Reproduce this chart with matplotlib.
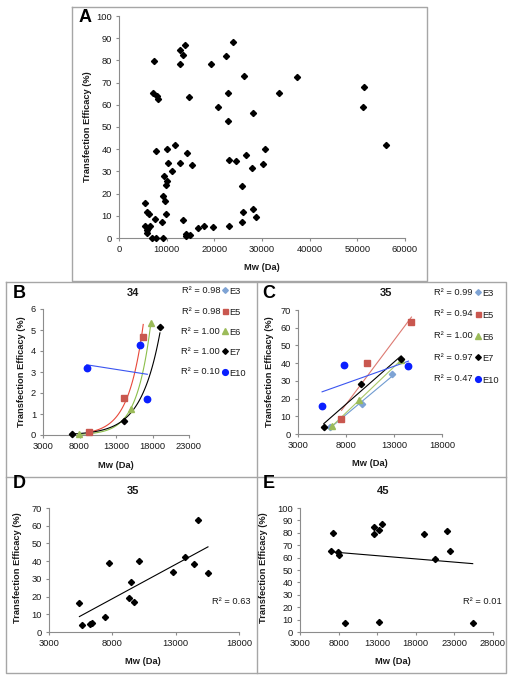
import numpy as np
import matplotlib
matplotlib.use('Agg')
import matplotlib.pyplot as plt
from matplotlib.lines import Line2D

plt.rcParams['font.family'] = ['Liberation Sans', 'DejaVu Sans']

W, H = 513, 682

# ---- panel A: all polymers ----
a_mw = [7350, 7140, 7980, 8190, 7770, 12880, 13790, 13440, 12880, 14700,
        19390, 22400, 24010, 26320, 22890, 20860, 22890, 28210, 33530, 37240,
        51380, 51240, 56000, 10080, 11760, 14350, 15400, 12810, 10220, 11060,
        9450, 10080, 9800, 9240, 9660, 9940, 23170, 24500, 26600, 30660,
        30240, 28000, 25760, 26110, 28210, 28700, 25760, 23100, 19740, 17780,
        16660, 13440, 14000, 14140, 14980, 8960, 7490, 5390, 5880, 6300,
        5390, 6510, 6160, 5880, 5880, 6860, 7840, 9310]
a_te = [79.6, 65.4, 64.0, 62.4, 39.0, 84.9, 87.1, 82.3, 78.6, 63.3,
        78.6, 81.9, 88.3, 73.0, 65.4, 59.1, 52.9, 56.4, 65.4, 72.3,
        68.1, 58.9, 42.1, 40.0, 42.1, 38.5, 33.1, 33.6, 33.7, 30.1,
        28.0, 25.6, 23.7, 19.0, 16.6, 10.6, 35.1, 34.6, 37.5, 40.0,
        33.3, 31.6, 23.4, 11.8, 12.9, 9.6, 7.3, 5.4, 5.1, 5.4,
        4.6, 8.1, 1.6, 0.9, 1.3, 7.0, 8.4, 15.9, 11.7, 10.6,
        5.5, 5.4, 4.5, 3.6, 2.4, 0.0, 0.0, 0.0]

# ---- panel B: 34, by series ----
b_series = ['E3', 'E5', 'E6', 'E7', 'E10']
b_r2 = ['0.98', '0.98', '1.00', '1.00', '0.10']
b_mw = {'E3': [], 'E5': [9320, 14120, 16730], 'E6': [7900, 15000, 17780],
        'E7': [6980, 14120, 19020], 'E10': [8990, 16290, 17290]}
b_te = {'E3': [], 'E5': [0.13, 1.76, 4.67], 'E6': [0.03, 1.25, 5.33],
        'E7': [0.05, 0.68, 5.13], 'E10': [3.18, 4.30, 1.70]}

# ---- panel C: 35, by series ----
c_series = ['E3', 'E5', 'E6', 'E7', 'E10']
c_r2 = ['0.99', '0.94', '1.00', '0.97', '0.47']
c_mw = {'E3': [6310, 9700, 12840], 'E5': [7530, 10150, 14820],
        'E6': [6560, 9350, 13750], 'E7': [5690, 9560, 13740],
        'E10': [5510, 7810, 14510]}
c_te = {'E3': [4.1, 16.8, 33.7], 'E5': [8.3, 40.1, 63.2],
        'E6': [4.5, 19.0, 41.8], 'E7': [3.9, 28.0, 42.3],
        'E10': [15.8, 39.0, 38.4]}

# ---- panel D: 35 pooled ----
d_mw = [5400, 5590, 6250, 6430, 7440, 7750, 9290, 9470, 9680, 10100,
        12770, 13750, 14440, 14800, 15550]
d_te = [16.2, 4.0, 4.5, 5.1, 8.5, 39.1, 19.4, 28.0, 16.9, 40.3,
        33.7, 42.2, 38.6, 63.4, 33.3]

# ---- panel E: 45 pooled ----
e_mw = [7010, 7310, 7870, 8040, 8780, 12650, 12650, 13210, 13560, 13260,
        19030, 20500, 22010, 22480, 25370]
e_te = [65.3, 79.8, 64.2, 62.4, 7.3, 84.9, 78.8, 82.3, 87.4, 8.3,
        78.8, 59.1, 81.7, 65.6, 7.5]

styles = {
    'E3': dict(marker='D', color='#7ea3d4', ms=3.2, line='#7ea3d4'),
    'E5': dict(marker='s', color='#c9574f', ms=4.0, line='#e8483a'),
    'E6': dict(marker='^', color='#9bbb59', ms=4.2, line='#8cbf4a'),
    'E7': dict(marker='D', color='black', ms=3.2, line='black'),
    'E10': dict(marker='o', color='#0a1fff', ms=4.6, line='#3b55f0'),
}
c_line = {'E5': '#dd7a72', 'E3': '#6f9bd0', 'E6': '#a9c96a'}

AX_C = '#8c8c8c'
TXT = '#1a1a1a'
DMS = 3.1   # black diamond size in A, D, E


def ax_px(fig, x0, x1, ybot, ytop):
    return fig.add_axes([x0 / W, 1 - ybot / H, (x1 - x0) / W, (ybot - ytop) / H])


def style(ax, xlim, xticks, ylim, yticks):
    ax.set_xlim(xlim)
    ax.set_ylim(ylim)
    ax.set_xticks(xticks)
    ax.set_yticks(yticks)
    for s in ['top', 'right']:
        ax.spines[s].set_visible(False)
    for s in ['left', 'bottom']:
        ax.spines[s].set_color(AX_C)
        ax.spines[s].set_linewidth(0.8)
    ax.tick_params(direction='out', length=2.5, width=0.8, color=AX_C,
                   labelsize=6.7, pad=2.5, labelcolor=TXT)
    ax.patch.set_alpha(0)


def ftext(fig, x, y, s, **kw):
    fig.text(x / W, 1 - y / H, s, **kw)


def fline(fig, xs, ys):
    fig.add_artist(Line2D([x / W for x in xs], [1 - y / H for y in ys],
                          color='#a6a6a6', lw=1.0, transform=fig.transFigure))


def lin_trend(ax, x, y, color):
    x = np.array(x, float)
    k, b = np.polyfit(x, y, 1)
    xs = np.array([x.min(), x.max()])
    ax.plot(xs, k * xs + b, color=color, lw=0.8, zorder=2)


def exp_trend(ax, x, y, color):
    x = np.array(x, float)
    k, b = np.polyfit(x, np.log(y), 1)
    xs = np.linspace(x.min(), x.max(), 100)
    ax.plot(xs, np.exp(k * xs + b), color=color, lw=0.8, zorder=2)


def legend_rows(fig, x_txt, ys, names, r2s):
    for y, n, r in zip(ys, names, r2s):
        st = styles[n]
        ftext(fig, x_txt, y, 'R² = ' + r, ha='right', va='center', fontsize=6.7, color=TXT)
        fig.add_artist(Line2D([(x_txt + 5) / W], [1 - y / H], marker=st['marker'],
                              color=st['color'], ms=st['ms'] * 0.9, ls='none',
                              transform=fig.transFigure))
        ftext(fig, x_txt + 9, y + 1.5, n, ha='left', va='center', fontsize=6.7, color=TXT)


fig = plt.figure(figsize=(W / 100, H / 100), dpi=100)

# panel borders
fline(fig, [72, 427, 427, 72, 72], [7, 7, 281, 281, 7])
fline(fig, [6, 506, 506, 6, 6], [282, 282, 673, 673, 282])
fline(fig, [257, 257], [282, 673])
fline(fig, [6, 506], [477, 477])

# ---- A ----
ax = ax_px(fig, 119, 405, 238, 16)
style(ax, (0, 60000), range(0, 60001, 10000), (0, 100), range(0, 101, 10))
ax.plot(a_mw, a_te, 'D', color='black', ms=DMS, clip_on=False, zorder=3)
ftext(fig, 79, 17, 'A', fontsize=13, fontweight='bold', va='center', ha='left')
ftext(fig, 262, 268, 'Mw (Da)', fontsize=6.7, fontweight='bold', ha='center', va='center', color=TXT)
ftext(fig, 87, 127, 'Transfection Efficacy (%)', fontsize=6.7, fontweight='bold',
      ha='center', va='center', rotation=90, color=TXT)

# ---- B ----
ax = ax_px(fig, 43, 189, 435, 309)
style(ax, (3000, 23000), range(3000, 23001, 5000), (0, 6), range(0, 7))
for n in b_series:
    if not b_mw[n]:
        continue
    st = styles[n]
    if n == 'E10':
        lin_trend(ax, b_mw[n], b_te[n], st['line'])
    else:
        exp_trend(ax, b_mw[n], b_te[n], st['line'])
for n in b_series:
    if not b_mw[n]:
        continue
    st = styles[n]
    ax.plot(b_mw[n], b_te[n], st['marker'], color=st['color'], ms=st['ms'], clip_on=False, zorder=3)
ftext(fig, 13, 293, 'B', fontsize=13, fontweight='bold', va='center', ha='left')
ftext(fig, 133, 293, '34', fontsize=8, fontweight='bold', ha='center', va='center', color=TXT)
ftext(fig, 116, 465, 'Mw (Da)', fontsize=6.7, fontweight='bold', ha='center', va='center', color=TXT)
ftext(fig, 22, 372, 'Transfection Efficacy (%)', fontsize=6.7, fontweight='bold',
      ha='center', va='center', rotation=90, color=TXT)
legend_rows(fig, 220, [290, 311, 331, 351, 372], b_series, b_r2)

# ---- C ----
ax = ax_px(fig, 298, 442, 434, 310)
style(ax, (3000, 18000), range(3000, 18001, 5000), (0, 70), range(0, 71, 10))
for n in c_series:
    lin_trend(ax, c_mw[n], c_te[n], c_line.get(n, styles[n]['line']))
for n in c_series:
    st = styles[n]
    ax.plot(c_mw[n], c_te[n], st['marker'], color=st['color'], ms=st['ms'], clip_on=False, zorder=3)
ftext(fig, 262, 293, 'C', fontsize=13, fontweight='bold', va='center', ha='left')
ftext(fig, 386, 293, '35', fontsize=8, fontweight='bold', ha='center', va='center', color=TXT)
ftext(fig, 370, 464, 'Mw (Da)', fontsize=6.7, fontweight='bold', ha='center', va='center', color=TXT)
ftext(fig, 270, 372, 'Transfection Efficacy (%)', fontsize=6.7, fontweight='bold',
      ha='center', va='center', rotation=90, color=TXT)
legend_rows(fig, 473, [292, 314, 336, 357, 379], c_series, c_r2)

# ---- D ----
ax = ax_px(fig, 49, 239, 632, 508)
style(ax, (3000, 18000), range(3000, 18001, 5000), (0, 70), range(0, 71, 10))
lin_trend(ax, d_mw, d_te, 'black')
ax.plot(d_mw, d_te, 'D', color='black', ms=DMS, clip_on=False, zorder=3)
ftext(fig, 13, 484, 'D', fontsize=13, fontweight='bold', va='center', ha='left')
ftext(fig, 133, 491, '35', fontsize=8, fontweight='bold', ha='center', va='center', color=TXT)
ftext(fig, 143, 662, 'Mw (Da)', fontsize=6.7, fontweight='bold', ha='center', va='center', color=TXT)
ftext(fig, 18, 568, 'Transfection Efficacy (%)', fontsize=6.7, fontweight='bold',
      ha='center', va='center', rotation=90, color=TXT)
ftext(fig, 251, 602, 'R² = 0.63', fontsize=6.7, ha='right', va='center', color=TXT)

# ---- E ----
ax = ax_px(fig, 300, 493, 632, 508)
style(ax, (3000, 28000), range(3000, 28001, 5000), (0, 100), range(0, 101, 10))
lin_trend(ax, e_mw, e_te, 'black')
ax.plot(e_mw, e_te, 'D', color='black', ms=DMS, clip_on=False, zorder=3)
ftext(fig, 263, 484, 'E', fontsize=13, fontweight='bold', va='center', ha='left')
ftext(fig, 383, 491, '45', fontsize=8, fontweight='bold', ha='center', va='center', color=TXT)
ftext(fig, 393, 662, 'Mw (Da)', fontsize=6.7, fontweight='bold', ha='center', va='center', color=TXT)
ftext(fig, 263, 568, 'Transfection Efficacy (%)', fontsize=6.7, fontweight='bold',
      ha='center', va='center', rotation=90, color=TXT)
ftext(fig, 502, 602, 'R² = 0.01', fontsize=6.7, ha='right', va='center', color=TXT)

fig.savefig('out.png', dpi=100)
